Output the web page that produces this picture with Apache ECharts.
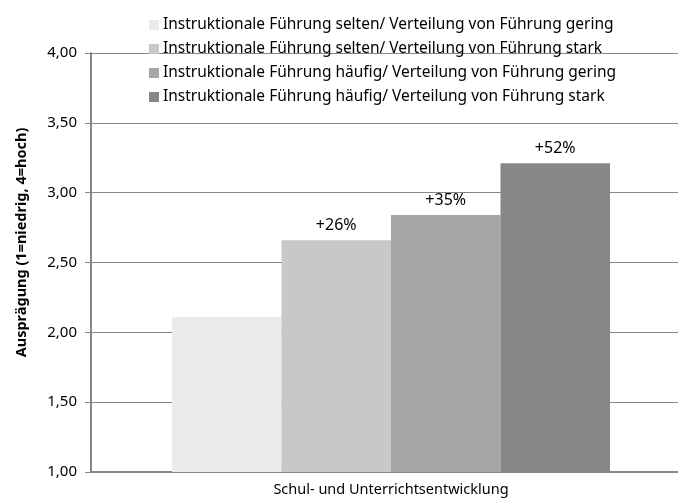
<!DOCTYPE html>
<html>
<head>
<meta charset="utf-8">
<script src="https://cdn.jsdelivr.net/npm/echarts@6/dist/echarts.min.js"></script>
<style>
  html, body { margin: 0; padding: 0; background: #fff; }
  #main { width: 678px; height: 504px; }
</style>
</head>
<body>
<div id="main"></div>
<script>
// Daten
const categories = ['Schul- und Unterrichtsentwicklung'];
const seriesNames = [
  'Instruktionale Führung selten/ Verteilung von Führung gering',
  'Instruktionale Führung selten/ Verteilung von Führung stark',
  'Instruktionale Führung häufig/ Verteilung von Führung gering',
  'Instruktionale Führung häufig/ Verteilung von Führung stark'
];
const values = [2.11, 2.66, 2.84, 3.21];
const barLabels = ['', '+26%', '+35%', '+52%'];
const colors = ['#ebebeb', '#c8c8c8', '#a6a6a6', '#878787'];
const yTicks = [1, 1.5, 2, 2.5, 3, 3.5, 4];

const font = 'Noto Sans';
const mychart = echarts.init(document.getElementById('main'));

const series = seriesNames.map((name, i) => ({
  name: name,
  type: 'bar',
  barGap: '0%',
  barCategoryGap: '27%',
  data: [values[i]],
  itemStyle: { color: colors[i] },
  label: {
    show: barLabels[i] !== '',
    position: 'top',
    distance: 7,
    formatter: () => barLabels[i],
    color: '#000',
    fontFamily: font,
    fontSize: 16
  }
}));

const option = {
  animation: false,
  textStyle: { fontFamily: font },
  legend: {
    orient: 'vertical',
    left: 144,
    top: 12,
    itemWidth: 10,
    itemHeight: 10,
    itemGap: 8,
    icon: 'rect',
    textStyle: { fontFamily: font, fontSize: 15.5, color: '#000', padding: [0, 0, 0, -1] },
    data: seriesNames
  },
  grid: { left: 91, right: -13, top: 53, bottom: 32, containLabel: false, outerBoundsMode: 'none' },
  xAxis: {
    type: 'category',
    data: categories,
    axisLine: { lineStyle: { color: '#868686', width: 2 } },
    axisTick: { show: false },
    axisLabel: { color: '#000', fontSize: 14.5, fontFamily: font, margin: 10 }
  },
  yAxis: {
    type: 'value',
    min: yTicks[0],
    max: yTicks[yTicks.length - 1],
    interval: 0.5,
    name: 'Ausprägung (1=niedrig, 4=hoch)',
    nameLocation: 'middle',
    nameGap: 62,
    nameTextStyle: { fontWeight: 'bold', fontSize: 14.5, color: '#000', fontFamily: font, padding: [0, 0, 0, 40] },
    axisLine: { show: true, lineStyle: { color: '#868686', width: 2 } },
    axisTick: { show: true, length: 6, inside: false, lineStyle: { color: '#868686' } },
    splitLine: { lineStyle: { color: '#868686', width: 1 } },
    axisLabel: {
      color: '#000',
      fontSize: 15,
      fontFamily: font,
      margin: 14,
      formatter: v => v.toFixed(2).replace('.', ',')
    }
  },
  series: series
};

mychart.setOption(option);
</script>
</body>
</html>
